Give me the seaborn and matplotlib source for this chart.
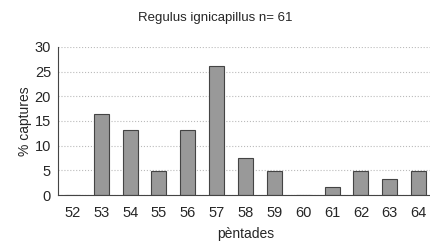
import matplotlib
matplotlib.use('Agg')
from matplotlib import pyplot as plt
import numpy as np
import pandas as pd
import seaborn as sns

sns.set_style('white')
plt.rcParams['font.family'] = ['Liberation Sans', 'DejaVu Sans']

# data
pentades = ['52', '53', '54', '55', '56', '57', '58', '59', '60', '61', '62', '63', '64']
captures = [0, 16.4, 13.1, 4.9, 13.1, 26.2, 7.4, 4.9, 0, 1.6, 4.9, 3.3, 4.9]

df = pd.DataFrame({'pentada': pentades, 'captures': captures})

fig = plt.figure(figsize=(4.31, 2.45), dpi=100)
ax = fig.add_axes([58/431, 50/245, 375/431, 148/245])

sns.barplot(data=df, x='pentada', y='captures', color='#999999',
            width=0.52, edgecolor='#444444', linewidth=0.8,
            saturation=1, ax=ax)

ax.set_ylim(0, 30)
ax.set_xlim(-0.5, 12.5)
ax.set_yticks(range(0, 31, 5))
ax.yaxis.grid(True, linestyle=':', color='#bbbbbb', linewidth=0.8)
ax.set_axisbelow(True)

# Excel-style ticks between categories
ax.set_xticks(np.arange(-0.5, 13, 1), minor=True)
ax.tick_params(axis='x', which='minor', length=3, direction='out', width=0.8, color='#444444')
ax.tick_params(axis='x', which='major', length=0, labelsize=10.5, pad=8)
ax.tick_params(axis='y', length=3, direction='out', width=0.8, labelsize=10.5, pad=2, color='#444444')

for s in ['top', 'right']:
    ax.spines[s].set_visible(False)
for s in ['left', 'bottom']:
    ax.spines[s].set_color('#444444')
    ax.spines[s].set_linewidth(0.8)

ax.set_xlabel('pèntades', fontsize=10, labelpad=5)
ax.set_ylabel('% captures', fontsize=10, labelpad=2)
fig.text(0.5, 1 - 18/245, 'Regulus ignicapillus n= 61', ha='center', va='center', fontsize=9.5)

plt.savefig('out.png', dpi=100)
